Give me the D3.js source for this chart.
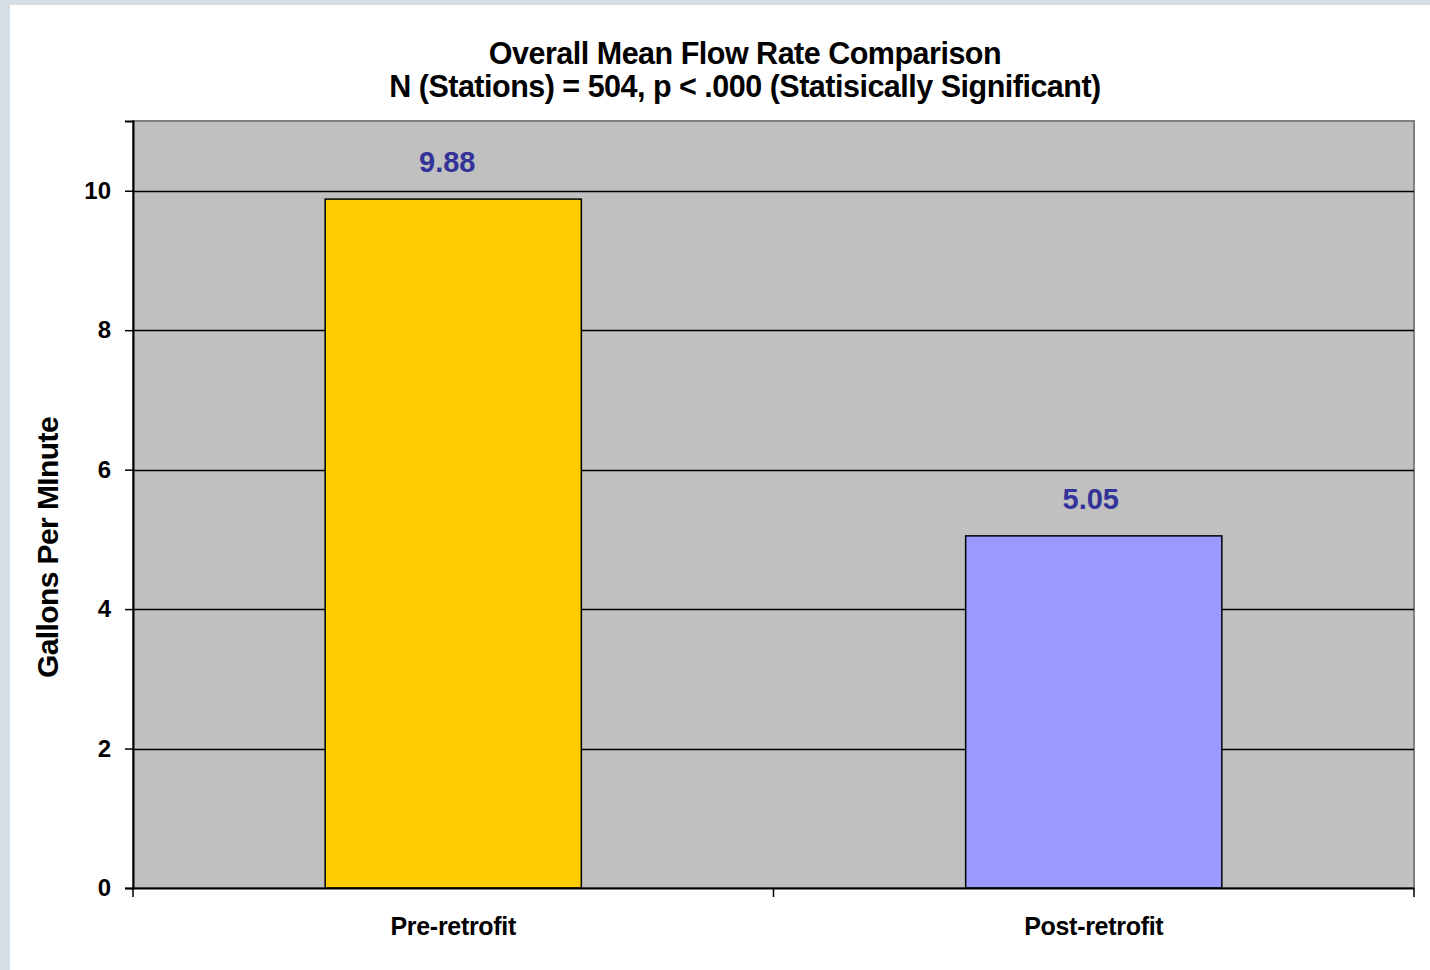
<!DOCTYPE html>
<html>
<head>
<meta charset="utf-8">
<script src="https://cdn.jsdelivr.net/npm/d3@7"></script>
<style>
  html, body { margin: 0; padding: 0; background: #d5dde5; }
  svg { display: block; }
  text { font-family: "Liberation Sans", Arial, sans-serif; }
</style>
</head>
<body>
<svg id="chart" width="1430" height="970"></svg>
<script>
// Chart data
const categories = ["Pre-retrofit", "Post-retrofit"];
const meanFlow = [9.88, 5.05];
const valueLabels = ["9.88", "5.05"];
const barColors = ["#ffcc00", "#9999ff"];
const yTicks = [0, 2, 4, 6, 8, 10];
const titleLines = [
  "Overall Mean Flow Rate Comparison",
  "N (Stations) = 504, p < .000 (Statisically Significant)"
];
const yAxisTitle = "Gallons Per MInute";

const svg = d3.select("#chart");

// page backdrop and white chart panel
svg.append("rect").attr("x", 0).attr("y", 0).attr("width", 1430).attr("height", 970).attr("fill", "#d5dde5");
svg.append("rect").attr("x", 10).attr("y", 5).attr("width", 1420).attr("height", 965).attr("fill", "#ffffff");

const plot = { left: 133, right: 1414, top: 121, bottom: 888 };

const x = d3.scaleBand()
  .domain(categories)
  .range([plot.left, plot.right])
  .paddingInner(0)
  .paddingOuter(0);

const y = d3.scaleLinear()
  .domain([0, 11])
  .range([plot.bottom, plot.top]);

// plot area background
svg.append("rect")
  .attr("x", plot.left).attr("y", plot.top)
  .attr("width", plot.right - plot.left).attr("height", plot.bottom - plot.top)
  .attr("fill", "#c0c0c0")
  .attr("stroke", "#808080").attr("stroke-width", 2);

// horizontal gridlines
svg.append("g").selectAll("line")
  .data(yTicks.filter(d => d > 0))
  .join("line")
  .attr("x1", plot.left).attr("x2", plot.right)
  .attr("y1", d => Math.round(y(d)) + 0.5).attr("y2", d => Math.round(y(d)) + 0.5)
  .attr("stroke", "#000").attr("stroke-width", 1.3);

// bars
const barW = x.bandwidth() * 0.4;
svg.append("g").selectAll("rect")
  .data(categories)
  .join("rect")
  .attr("x", (d) => x(d) + (x.bandwidth() - barW) / 2)
  .attr("y", (d, i) => y(meanFlow[i]))
  .attr("width", barW)
  .attr("height", (d, i) => y(0) - y(meanFlow[i]))
  .attr("fill", (d, i) => barColors[i])
  .attr("stroke", "#000").attr("stroke-width", 1.5);

// value labels
svg.append("g").selectAll("text")
  .data(categories)
  .join("text")
  .attr("x", (d, i) => x(d) + x.bandwidth() / 2 - 6 + i * 3)
  .attr("y", (d, i) => y(meanFlow[i]) - 27)
  .attr("text-anchor", "middle")
  .attr("font-size", 29).attr("font-weight", "bold")
  .attr("fill", "#333399")
  .text((d, i) => valueLabels[i]);

// y axis
const yAxis = d3.axisLeft(y).tickValues(yTicks).tickSize(8).tickPadding(14).tickFormat(d3.format("d"));
const gy = svg.append("g").attr("transform", `translate(${plot.left},0)`).call(yAxis);
gy.select(".domain").attr("stroke", "#000").attr("stroke-width", 2);
gy.selectAll(".tick line").attr("stroke", "#000").attr("stroke-width", 1.5);
gy.selectAll(".tick text")
  .attr("font-family", '"Liberation Sans", Arial, sans-serif')
  .attr("font-size", 24).attr("font-weight", "bold").attr("fill", "#000");

// x axis: ticks sit on the category boundaries
const xAxis = d3.axisBottom(x).tickSize(0).tickPadding(29);
const gx = svg.append("g").attr("transform", `translate(0,${plot.bottom})`).call(xAxis);
gx.select(".domain").attr("stroke", "#000").attr("stroke-width", 2);
gx.selectAll(".tick text")
  .attr("font-family", '"Liberation Sans", Arial, sans-serif')
  .attr("font-size", 25).attr("font-weight", "bold").attr("fill", "#000")
  .attr("letter-spacing", -0.3);
const boundaries = [x(categories[0]), x(categories[1]), x(categories[1]) + x.bandwidth()];
gx.append("g").selectAll("line")
  .data(boundaries)
  .join("line")
  .attr("x1", d => d).attr("x2", d => d)
  .attr("y1", 0).attr("y2", 9)
  .attr("stroke", "#000").attr("stroke-width", 1.5);

// y axis title
svg.append("text")
  .attr("transform", `translate(58,${(plot.top + plot.bottom) / 2 + 43}) rotate(-90)`)
  .attr("text-anchor", "middle")
  .attr("font-size", 30).attr("font-weight", "bold")
  .attr("letter-spacing", -0.6)
  .text(yAxisTitle);

// title
svg.append("g").selectAll("text")
  .data(titleLines)
  .join("text")
  .attr("x", 745)
  .attr("y", (d, i) => 63.5 + i * 33.5)
  .attr("text-anchor", "middle")
  .attr("font-size", 30.5).attr("font-weight", "bold")
  .attr("letter-spacing", -0.5)
  .text(d => d);
</script>
</body>
</html>
